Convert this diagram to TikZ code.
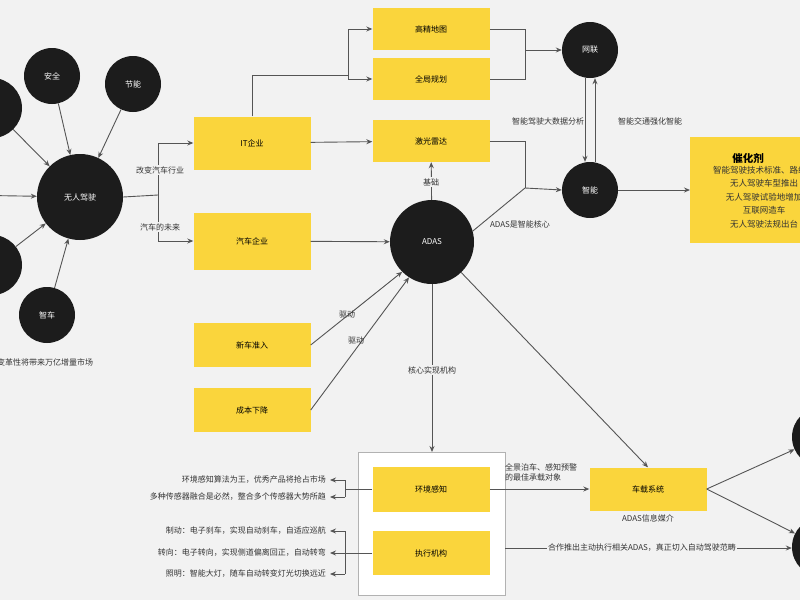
\documentclass[tikz,border=0pt]{standalone}
\usepackage{fontspec}
\setmainfont{Noto Sans CJK SC}
\usetikzlibrary{arrows.meta}
\definecolor{bg}{HTML}{F2F2F2}
\definecolor{yel}{HTML}{FAD53C}
\definecolor{blk}{HTML}{1C1C1C}
\definecolor{ln}{HTML}{555555}
\begin{document}
\begin{tikzpicture}[x=1pt,y=-1pt,font=\fontsize{8}{10}\selectfont,
 circ/.style={circle,fill=blk,text=white,inner sep=0pt},
 box/.style={fill=yel,minimum width=117pt,inner sep=0pt},
 arr/.style={draw=ln,line width=0.9pt,-{Stealth[length=6pt,width=5pt]}},
 ln/.style={draw=ln,line width=0.9pt},
 lab/.style={text=black!80,inner sep=1pt}]
\useasboundingbox (0,0) rectangle (800,600);
\clip (0,0) rectangle (800,600);
\fill[bg] (0,0) rectangle (800,600);
% circles
\node[circ,minimum size=86pt] (wr) at (80,197) {无人驾驶};
\node[circ,minimum size=56pt] (aq) at (52,76) {安全};
\node[circ,minimum size=56pt] (jn) at (133,84) {节能};
\node[circ,minimum size=60pt] (c1) at (-8,108) {};
\node[circ,minimum size=60pt] (c2) at (-40,195) {};
\node[circ,minimum size=60pt] (c3) at (-8,265) {};
\node[circ,minimum size=56pt] (zc) at (47,315) {智车};
\node[lab,anchor=west] (cap) at (-4,362) {变革性将带来万亿增量市场};
\foreach \c in {aq,jn,c1,c2,c3,zc} \draw[arr] (\c) -- (wr);
% boxes
\node[box,minimum height=53pt] (it) at (252,143) {IT企业};
\node[box,minimum height=57pt] (qc) at (252,241) {汽车企业};
\node[box,minimum height=44pt] (xc) at (252,345) {新车准入};
\node[box,minimum height=44pt] (cb) at (252,410) {成本下降};
\node[box,minimum height=42pt] (gj) at (431,29) {高精地图};
\node[box,minimum height=42pt] (qj) at (431,79) {全局规划};
\node[box,minimum height=42pt] (jg) at (431,141) {激光雷达};
\node[circ,minimum size=84pt] (adas) at (432,242) {ADAS};
\node[circ,minimum size=56pt] (wl) at (590,50) {网联};
\node[circ,minimum size=56pt] (zn) at (590,190) {智能};
\node[fill=yel,minimum width=130pt,minimum height=106pt,anchor=north west] (chj) at (690,137) {};
\node[font=\fontsize{10.5}{12}\selectfont\bfseries] (chjt) at (748,158) {催化剂};
\node[lab,anchor=north,align=center,font=\fontsize{8.5}{13.5}\selectfont] (chjl) at (764,165) {智能驾驶技术标准、路线图\\无人驾驶车型推出\\无人驾驶试验地增加\\互联网造车\\无人驾驶法规出台};
% wr branch
\coordinate (b0) at (158,195);
\draw[ln] (wr.east) -- (b0);
\draw[arr] (158,143) |- (it.west); \draw[ln] (b0) -- (158,143);
\draw[arr] (b0) |- (qc.west);
\node[lab,fill=bg] (l1) at (160,170) {改变汽车行业};
\node[lab,fill=bg] (l2) at (160,227) {汽车的未来};
% IT
\coordinate (f0) at (348,75);
\draw[ln] (it.north) |- (f0);
\draw[arr] (348,29) -- (gj.west); \draw[ln] (348,29) -- (348,79);
\draw[arr] (348,79) -- (qj.west);
\draw[arr] (it) -- (jg);
\draw[ln] (gj.east) -- (525,29) -- (525,79) -- (qj.east);
\draw[arr] (525,50) -- (wl.west);
\draw[arr] ([xshift=-5pt]wl.south) -- ([xshift=-5pt]zn.north);
\draw[arr] ([xshift=5pt]zn.north) -- ([xshift=5pt]wl.south);
\node[lab] (l3) at (548,121) {智能驾驶大数据分析};
\node[lab] (l4) at (650,121) {智能交通强化智能};
\draw[ln] (jg.east) -- (525,141) -- (525,188);
\draw[ln] (adas.15) -- (525,188);
\draw[arr] (525,188) -- (zn.west);
\node[lab] (l5) at (520,224) {ADAS是智能核心};
\draw[arr] (adas) -- (jg);
\node[lab,fill=bg] (l6) at (431,182) {基础};
\draw[arr] (zn) -- (chj.west |- zn);
\draw[arr] (qc) -- (adas);
\draw[arr] (xc.east) -- (adas.225);
\draw[arr] (cb.east) -- (adas.237);
\node[lab] (l7) at (347,315) {驱动};
\node[lab] (l8) at (356,341) {驱动};
% lower
\node[draw=black!30,fill=white,line width=0.8pt,minimum width=147pt,minimum height=143pt,anchor=north west] (wb) at (358,452) {};
\draw[arr] (adas.south) -- (wb.north -| adas);
\node[lab,fill=bg] (l9) at (432,370) {核心实现机构};
\node[box,minimum height=45pt] (hj) at (431,489) {环境感知};
\node[box,minimum height=44pt] (zx) at (431,553) {执行机构};
\node[box,minimum height=43pt] (cz) at (648,489) {车载系统};
\node[lab] (l10) at (648,518) {ADAS信息媒介};
\node[lab,anchor=west,align=left] (l11) at (504,472) {全景泊车、感知预警\\的最佳承载对象};
\draw[arr] (hj.east) -- (cz.west);
\draw[arr] (adas) -- (cz.north);
\node[circ,minimum size=60pt] (r1) at (822,437) {};
\node[circ,minimum size=60pt] (r2) at (822,547) {};
\draw[arr] (cz.east) -- (r1);
\draw[arr] (cz.east) -- (r2);
\draw[arr] (505,548) -- (r2.west |- 0,548);
\node[lab,fill=bg] (l12) at (642,548) {合作推出主动执行相关ADAS，真正切入自动驾驶范畴};
% left texts
\draw[ln] (hj.west) -- (345,489);
\draw[arr] (345,480) -- (330,480); \draw[ln] (345,480) -- (345,497);
\draw[arr] (345,497) -- (330,497);
\node[lab,anchor=east] (t1) at (327,480) {环境感知算法为王，优秀产品将抢占市场};
\node[lab,anchor=east] (t2) at (327,497) {多种传感器融合是必然，整合多个传感器大势所趋};
\draw[ln] (zx.west) -- (345,553);
\draw[arr] (345,531) -- (330,531); \draw[ln] (345,531) -- (345,574);
\draw[arr] (345,553) -- (330,553);
\draw[arr] (345,574) -- (330,574);
\node[lab,anchor=east] (t3) at (327,531) {制动：电子刹车，实现自动刹车，自适应巡航};
\node[lab,anchor=east] (t4) at (327,553) {转向：电子转向，实现侧道偏离回正，自动转弯};
\node[lab,anchor=east] (t5) at (327,574) {照明：智能大灯，随车自动转变灯光切换远近};
\end{tikzpicture}
\end{document}
